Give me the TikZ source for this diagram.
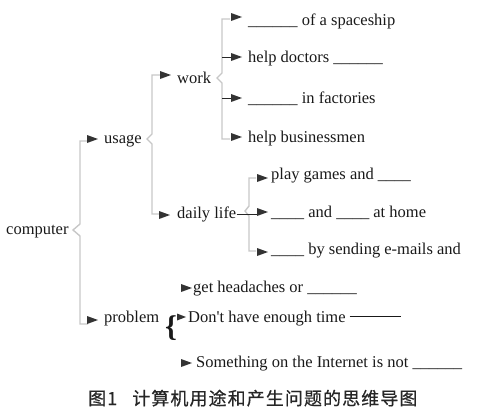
\documentclass[tikz,border=0pt]{standalone}
\usepackage{fontspec}
\setmainfont{Liberation Serif}
\newfontfamily\cjk[LetterSpace=6,FakeBold=0.6]{Noto Sans CJK SC}
\begin{document}
\begin{tikzpicture}[x=1pt,y=-1pt,
  txt/.style={anchor=base west, inner sep=0pt, font=\fontsize{16.5}{18}\selectfont, text=black!90},
  brk/.style={draw=black!22, line width=1.4pt, line join=miter},
  tick/.style={draw=black!85, line width=0.8pt},
  tri/.pic={\fill[black!80] (0,0) -- (-11,-4) -- (-11,4) -- cycle;},
  trismall/.pic={\fill[black!80] (0,0) -- (-9,-3.5) -- (-9,3.5) -- cycle;}]
\useasboundingbox (0,0) rectangle (484,415);
% texts
\node[txt] (computer) at (6,234) {computer};
\node[txt] (usage) at (104,143) {usage};
\node[txt] (work) at (177,83) {work};
\node[txt] (daily) at (177,218) {daily life};
\node[txt] (problem) at (104,322) {problem};
\node[txt] (w1) at (248,25) {\_\_\_\_\_\_ of a spaceship};
\node[txt] (w2) at (248,62) {help doctors \_\_\_\_\_\_};
\node[txt] (w3) at (248,103) {\_\_\_\_\_\_ in factories};
\node[txt] (w4) at (248,142) {help businessmen};
\node[txt] (d1) at (271,179) {play games and \_\_\_\_};
\node[txt] (d2) at (271,217) {\_\_\_\_ and \_\_\_\_ at home};
\node[txt] (d3) at (271,254) {\_\_\_\_ by sending e-mails and};
\node[txt] (p1) at (193,292) {get headaches or \_\_\_\_\_\_};
\node[txt] (p2) at (188,322) {Don\textquotesingle t have enough time \rule[5pt]{51pt}{0.8pt}};
\node[txt] (p3) at (196,367) {Something on the Internet is not \_\_\_\_\_\_};
\node[inner sep=0pt, font=\fontsize{30}{30}\selectfont\bfseries, text=black!90] (brace) at (171,328) {\{};
% bracket coordinates
\coordinate (cT) at (88,141); \coordinate (cB) at (88,324);
\coordinate (uT) at (160,75); \coordinate (uB) at (160,214);
\coordinate (kT) at (230,19); \coordinate (kB) at (230,139);
\coordinate (lT) at (256,178); \coordinate (lB) at (256,251);
% brackets
\draw[brk] (cT) -- (80,141) -- (80,224) -- (73,230) -- (80,236) -- (80,324) -- (cB);
\draw[brk] (uT) -- (152,75) -- (152,134) -- (147,139) -- (152,144) -- (152,214) -- (uB);
\draw[brk] (kT) -- (222,19) -- (222,73) -- (217,78) -- (222,83) -- (222,139) -- (kB);
\draw[brk] (lT) -- (249,178) -- (249,206) -- (245,211) -- (249,216) -- (249,251) -- (lB);
\draw[tick] (222,57) -- (231,57);
\draw[tick] (222,98) -- (231,98);
\draw[tick] (daily.base east) ++(0,-4) -- (258,214);
% arrowheads
\pic at (98,139) {tri};
\pic at (98,320) {tri};
\pic at (171,75) {tri};
\pic at (170,215) {tri};
\pic at (242,17) {tri};
\pic at (242,57) {tri};
\pic at (242,98) {tri};
\pic at (242,137) {tri};
\pic at (268,178) {tri};
\pic at (268,212) {tri};
\pic at (268,252) {tri};
\pic at (192,288) {tri};
\pic at (186,317) {trismall};
\pic at (192,363) {tri};
% caption
\node[anchor=base west, inner sep=0pt, font=\cjk\fontsize{18}{20}\selectfont, text=black!85] (cap) at (88,405) {图1\hspace{15pt}计算机用途和产生问题的思维导图};
\end{tikzpicture}
\end{document}
